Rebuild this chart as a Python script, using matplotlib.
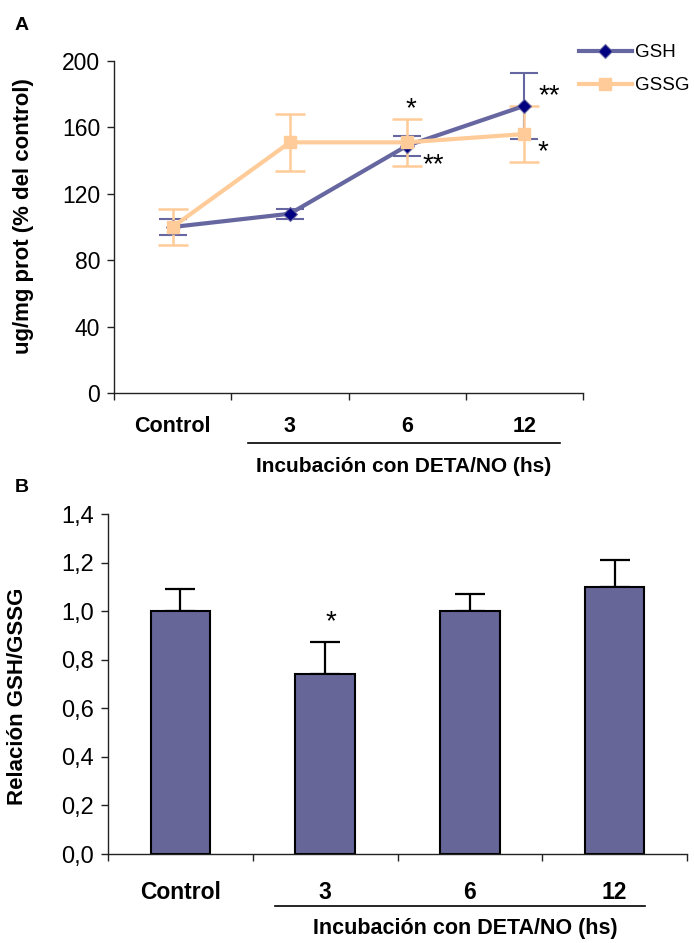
import numpy as np
import matplotlib
matplotlib.use("Agg")
import matplotlib.pyplot as plt
import matplotlib.transforms as mtransforms

plt.rcParams['font.family'] = ['Liberation Sans', 'DejaVu Sans']

# categories shared by both panels
categories = ["Control", "3", "6", "12"]
group_label = "Incubación con DETA/NO (hs)"

# panel A: glutathione levels (% of control)
gsh_mean = [100, 108, 149, 173]
gsh_err = [5, 3, 6, 20]
gssg_mean = [100, 151, 151, 156]
gssg_err = [11, 17, 14, 17]
# significance marks: (series, category index, text)
marks_a = [("gssg", 2, "*"), ("gsh", 2, "**"), ("gsh", 3, "**"), ("gssg", 3, "*")]

# panel B: GSH/GSSG ratio
ratio_mean = [1.0, 0.74, 1.0, 1.1]
ratio_err = [0.09, 0.135, 0.07, 0.11]
marks_b = [(1, "*")]

gsh_line = "#6666a0"
gsh_marker = "#000080"
gssg_color = "#ffcc99"
bar_color = "#666699"

fig = plt.figure(figsize=(6.94, 9.43), dpi=100)
W, H = 694.0, 943.0

x = np.arange(len(categories)) + 0.5


def style_axes(ax, tick_fs):
    for s in ["top", "right"]:
        ax.spines[s].set_visible(False)
    for s in ["left", "bottom"]:
        ax.spines[s].set_linewidth(1.0)
        ax.spines[s].set_color("#222222")
    ax.set_xlim(0, len(categories))
    ax.set_xticks(np.arange(len(categories) + 1))
    ax.set_xticklabels([])
    ax.tick_params(axis="both", direction="out", length=5, width=1, color="#222222")
    ax.tick_params(axis="y", labelsize=tick_fs, pad=5)


def category_labels(ax, fs, gfs, y_lab, y_line, y_group, line_span):
    trans = mtransforms.blended_transform_factory(ax.transData, ax.transAxes)
    for xi, c in zip(x, categories):
        ax.text(xi, y_lab, c, transform=trans, ha="center", va="center",
                fontsize=fs, fontweight="bold")
    ax.plot(line_span, [y_line, y_line], transform=trans, color="black",
            lw=1.2, clip_on=False)
    ax.text(np.mean(x[1:]) - 0.03, y_group, group_label, transform=trans,
            ha="center", va="center", fontsize=gfs, fontweight="bold")


# ---------------- panel A ----------------
axA = fig.add_axes([114 / W, 1 - 393 / H, (583 - 114) / W, (393 - 61) / H])
style_axes(axA, 16.5)
axA.set_ylim(0, 200)
axA.set_yticks(np.arange(0, 201, 40))

axA.errorbar(x, gsh_mean, yerr=gsh_err, fmt="none", ecolor=gsh_line,
             elinewidth=1.5, capsize=10, capthick=1.5, zorder=2)
axA.plot(x, gsh_mean, color=gsh_line, lw=3, marker="D", ms=7,
         mfc=gsh_marker, mec=gsh_line, mew=0.8, label="GSH", zorder=3)
axA.errorbar(x, gssg_mean, yerr=gssg_err, fmt="none", ecolor=gssg_color,
             elinewidth=1.8, capsize=11, capthick=1.8, zorder=2.5)
axA.plot(x, gssg_mean, color=gssg_color, lw=3, marker="s", ms=8,
         mfc=gssg_color, mec=gssg_color, label="GSSG", zorder=4)

mark_offsets = {("gssg", 2): (3, 24), ("gsh", 2): (19, -14),
                ("gsh", 3): (18, 7), ("gssg", 3): (13, -13)}
for series, i, txt in marks_a:
    yv = gsh_mean[i] if series == "gsh" else gssg_mean[i]
    axA.annotate(txt, xy=(x[i], yv), xytext=mark_offsets[(series, i)],
                 textcoords="offset points", ha="center", va="center", fontsize=20)

category_labels(axA, 15.5, 15, -0.10, -0.151, -0.222, [1.14, 3.8])
fig.text(24 / W, 1 - 216 / H, "ug/mg prot (% del control)", rotation=90,
         ha="center", va="center", fontsize=16, fontweight="bold")
fig.text(22 / W, 1 - 25 / H, "A", ha="center", va="center", fontsize=14, fontweight="bold")

leg = axA.legend(loc="upper left", bbox_to_anchor=(579 / W, 1 - 44 / H),
                 bbox_transform=fig.transFigure, frameon=False, fontsize=13.5,
                 handlelength=2.8, handletextpad=0.2, labelspacing=0.85,
                 borderpad=0, borderaxespad=0)

# ---------------- panel B ----------------
axB = fig.add_axes([108 / W, 1 - 854 / H, (687 - 108) / W, (854 - 514) / H])
style_axes(axB, 17)
axB.set_ylim(0, 1.4)
axB.set_yticks(np.arange(0, 1.41, 0.2))
axB.set_yticklabels([f"{v:.1f}".replace(".", ",") for v in np.arange(0, 1.41, 0.2)])

axB.bar(x, ratio_mean, width=0.41, color=bar_color, edgecolor="black", lw=1.5, zorder=2)
axB.errorbar(x, ratio_mean, yerr=[np.zeros(len(ratio_err)), ratio_err], fmt="none",
             ecolor="black", elinewidth=1.6, capsize=11, capthick=1.6, zorder=1)
for i, txt in marks_b:
    axB.annotate(txt, xy=(x[i], ratio_mean[i] + ratio_err[i]), xytext=(4, 14),
                 textcoords="offset points", ha="center", va="center", fontsize=20)

category_labels(axB, 16.5, 15.5, -0.112, -0.153, -0.218, [1.155, 3.71])
fig.text(18 / W, 1 - 696 / H, "Relación GSH/GSSG", rotation=90,
         ha="center", va="center", fontsize=16, fontweight="bold")
fig.text(22 / W, 1 - 488 / H, "B", ha="center", va="center", fontsize=14, fontweight="bold")

fig.savefig("out.png", dpi=100)
